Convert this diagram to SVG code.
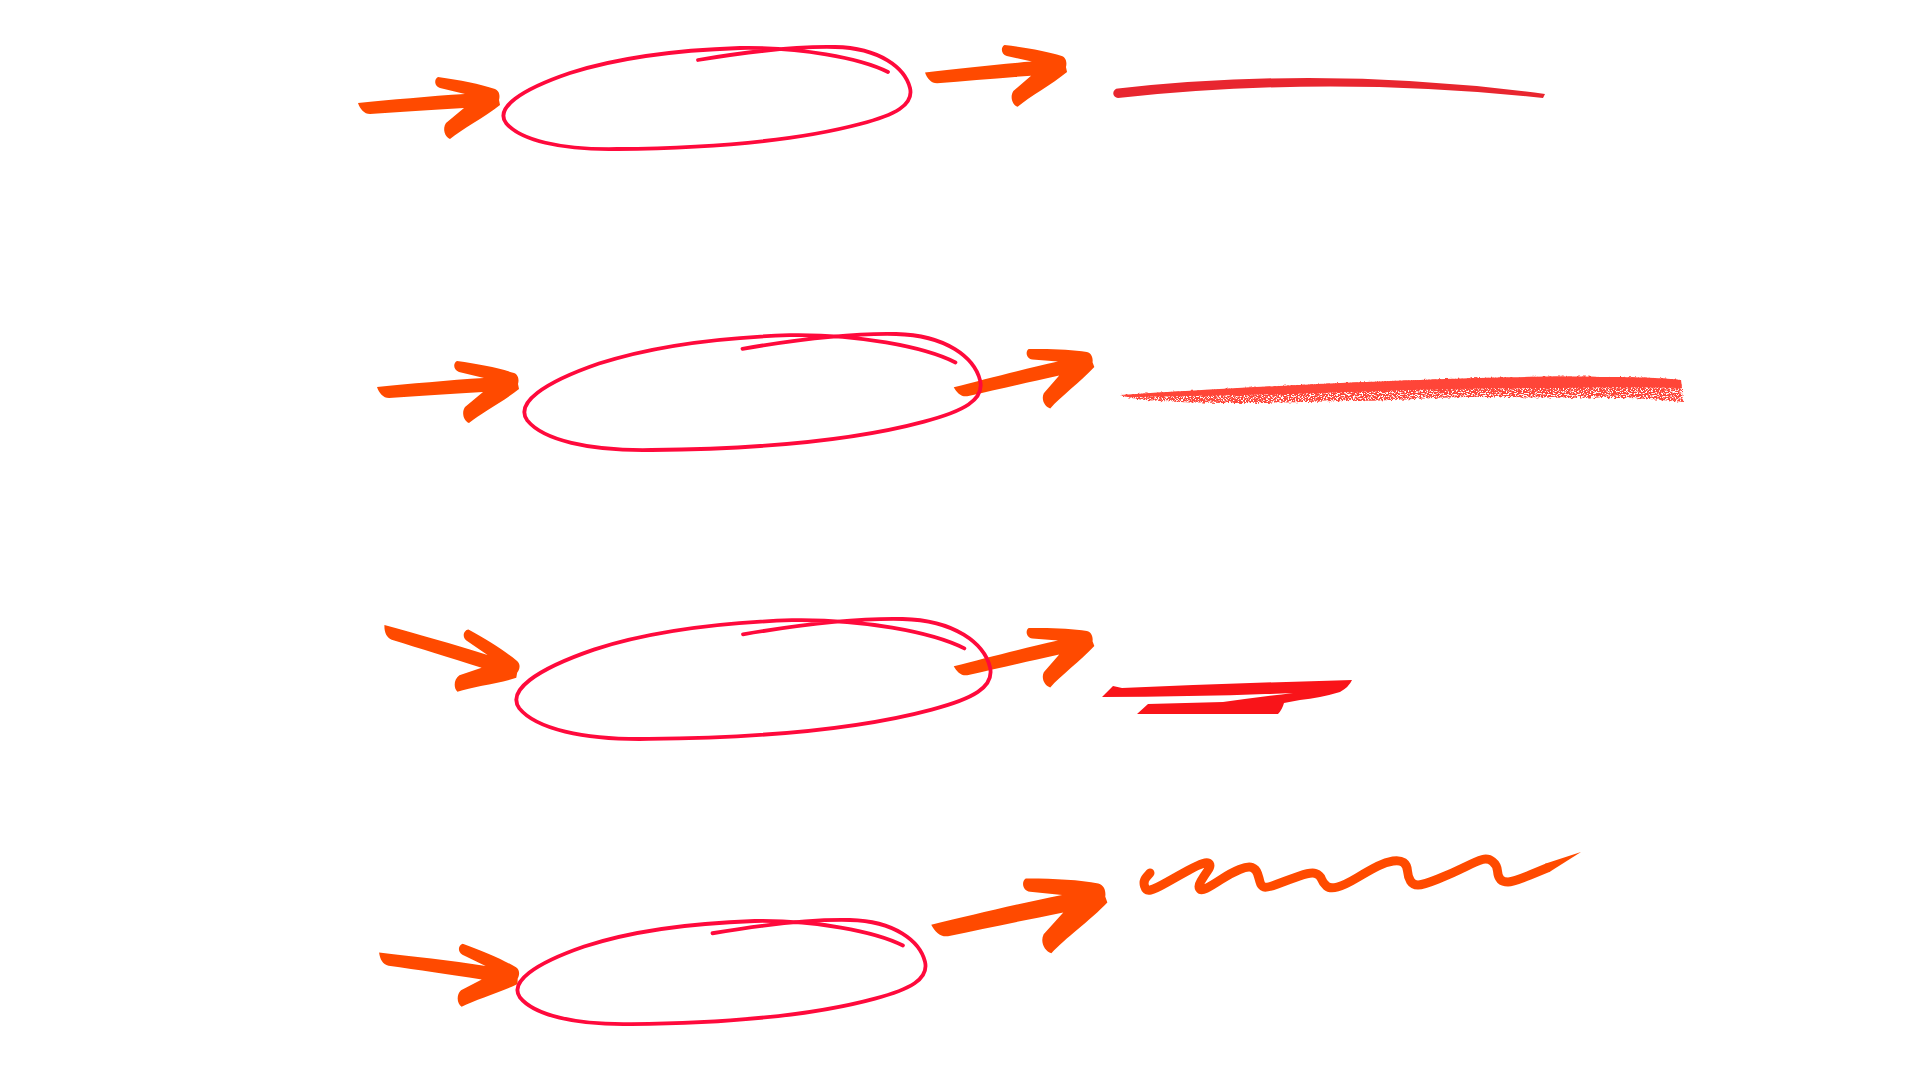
<svg xmlns="http://www.w3.org/2000/svg" xmlns:xlink="http://www.w3.org/1999/xlink" width="1920" height="1080" viewBox="0 0 1920 1080">
  <style>
    .arrow { fill: #ff4a00; }
    .ring { fill: none; stroke: #ff0a3c; stroke-linecap: round; stroke-linejoin: round; }
    .line1 { fill: #e8262f; }
    .chalk { fill: #ff4538; }
    .zed { fill: #f91419; }
    .squig { fill: none; stroke: #ff4a00; stroke-width: 9; stroke-linecap: round; stroke-linejoin: round; }
    .squigtip { fill: #ff4a00; }
  </style>
  <defs>
    <path id="arw" d="M-142,0 C-110,-3 -70,-7 -35,-9 L-60,-15 C-66,-17 -66,-24 -62,-26 C-40,-23 -20,-19 -5,-14 C0,-12 0,-6 -1,-3 L0,2 C-15,14 -38,26 -50,36 C-55,34 -58,26 -54,20 L-36,5 C-70,7 -100,9 -130,11 C-136,11 -140,6 -142,0 Z"/>
    <path id="ring" d="M698,60 C740,53 790,46 835,47 C880,48 905,68 910,88 C914,105 895,115 860,124 C800,140 720,148 617,149 C560,150 520,140 506,123 C495,108 520,90 570,73 C620,57 680,50 740,48 C800,47 860,58 888,72"/>
    <filter id="chalkfx" x="-5%" y="-100%" width="110%" height="300%" color-interpolation-filters="sRGB">
      <feTurbulence type="fractalNoise" baseFrequency="0.35" numOctaves="2" seed="4" result="d"/>
      <feDisplacementMap in="SourceGraphic" in2="d" scale="4" xChannelSelector="R" yChannelSelector="G" result="rough"/>
      <feTurbulence type="fractalNoise" baseFrequency="0.6 0.9" numOctaves="2" seed="7" result="n"/>
      <feColorMatrix in="n" type="matrix" values="0 0 0 0 0  0 0 0 0 0  0 0 0 0 0  -8 0 0 0 5" result="m"/>
      <feComposite in="rough" in2="m" operator="in"/>
    </filter>
  </defs>
  <rect width="1920" height="1080" fill="#ffffff"/>

  <g id="connectors">
    <use xlink:href="#arw" href="#arw" class="arrow" transform="translate(500,103)"/>
    <use xlink:href="#arw" href="#arw" class="arrow" transform="translate(1067,70) rotate(-1)"/>
    <use xlink:href="#arw" href="#arw" class="arrow" transform="translate(519,387)"/>
    <use xlink:href="#arw" href="#arw" class="arrow" transform="translate(1094,365) rotate(-9)"/>
    <use xlink:href="#arw" href="#arw" class="arrow" transform="translate(517,676) rotate(21)"/>
    <use xlink:href="#arw" href="#arw" class="arrow" transform="translate(1094,644) rotate(-9)"/>
    <use xlink:href="#arw" href="#arw" class="arrow" transform="translate(518,982) rotate(12)"/>
    <use xlink:href="#arw" href="#arw" class="arrow" transform="translate(1107,900) rotate(-8) scale(1.25)"/>
  </g>

  <g id="ellipse1">
    <use xlink:href="#ring" href="#ring" class="ring" stroke-width="3.8"/>
  </g>
  <g id="ellipse2">
    <use xlink:href="#ring" href="#ring" class="ring" stroke-width="3.35" transform="translate(525,334) scale(1.121,1.137) translate(-504,-47)"/>
  </g>
  <g id="ellipse3">
    <use xlink:href="#ring" href="#ring" class="ring" stroke-width="3.25" transform="translate(517,619) scale(1.165,1.176) translate(-504,-47)"/>
  </g>
  <g id="ellipse4">
    <use xlink:href="#ring" href="#ring" class="ring" stroke-width="3.75" transform="translate(518,920) scale(1.0025,1.02) translate(-504,-47)"/>
  </g>

  <g id="stroke-smooth">
    <path class="line1" d="M1118,88.5 Q1330,65 1545,94 L1543,98 Q1330,75 1118,98 A4.75,4.75 0 0 1 1118,88.5 Z"/>
  </g>

  <g id="stroke-chalk">
    <path class="chalk" filter="url(#chalkfx)" d="M1120,395 C1200,390 1300,384 1445,379 C1520,377 1560,376 1600,377 C1640,377 1665,378 1681,380 L1683,402 C1660,400 1645,398 1620,398 C1560,398 1500,397 1468,397 C1420,398 1390,401 1352,401 C1300,402 1270,403 1236,403 C1200,403 1175,402 1159,401 C1140,400 1128,398 1120,395 Z"/>
    <path class="chalk" d="M1120,395 C1200,390 1300,384 1445,379 C1520,377 1560,376 1600,377 C1640,377 1665,378 1681,380 L1682,388 C1640,387 1600,387 1560,388 C1500,388 1440,389 1380,391 C1300,394 1200,396 1130,397 Z"/>
  </g>

  <g id="stroke-zed">
    <path class="zed" d="M1102,697 L1113,686 L1122,688 Q1240,683 1352,680 Q1349,687 1340,692 Q1320,698 1300,700 L1284,703 Q1282,710 1278,714 L1137,714 L1148,704 L1223,702 Q1260,697 1293,693 Q1200,697 1102,697 Z"/>
  </g>

  <g id="stroke-squiggle">
    <path class="squig" d="M1150,873 L1146.5,877 Q1143,881 1144.5,886 Q1146,891 1150.5,890 Q1155,889 1166.5,882.5 Q1178,876 1188,870.5 Q1198,865 1203,863.5 Q1208,862 1209.5,864 Q1211,866 1207.5,871 Q1204,876 1201,881 Q1198,886 1199.5,888.5 Q1201,891 1206,888.5 Q1211,886 1221,879.5 Q1231,873 1239.5,869.5 Q1248,866 1252,867.5 Q1256,869 1257.5,873.5 Q1259,878 1260,882 Q1261,886 1264,887 Q1267,888 1277.5,884 Q1288,880 1299.5,876 Q1311,872 1315.5,873.5 Q1320,875 1321.5,879 Q1323,883 1326.5,886 Q1330,889 1337.5,887 Q1345,885 1357.5,877.5 Q1370,870 1378,866 Q1386,862 1393,861 Q1400,860 1403.5,862.5 Q1407,865 1407.5,871 Q1408,877 1410.5,881 Q1413,885 1418,885 Q1423,885 1438,879 Q1453,873 1465,867 Q1477,861 1482.5,859.5 Q1488,858 1492.5,861.5 Q1497,865 1497.5,871 Q1498,877 1500.5,879.5 Q1503,882 1508,882 Q1513,882 1530,875 L1547,868"/>
    <path class="squigtip" d="M1545,863.8 L1581,852 L1549,872.2 Z"/>
  </g>
</svg>
